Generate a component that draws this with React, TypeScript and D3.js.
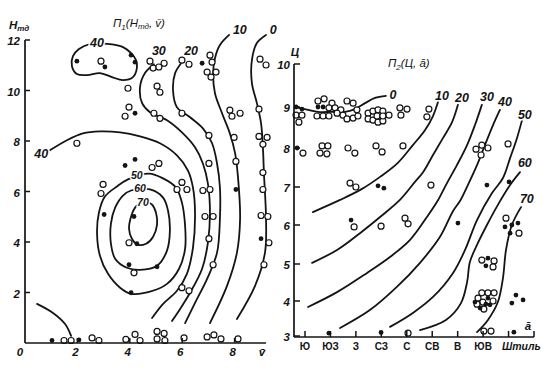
import React from "react";
import * as d3 from "d3";

type P = [number, number];

// ---------- Panel 1: П1(Hтд, v̄) ----------
const v1Ticks = [0, 2, 4, 6, 8];
const h1Ticks = [2, 4, 6, 8, 10, 12];

const p1Open: P[] = [
  [2.9, 11.16], [4.77, 11.16], [4.89, 10.89], [5.11, 10.93], [5.31, 11.08], [5.99, 11.2], [6.26, 11.04],
  [7.06, 11.4], [7.14, 11.12], [6.95, 10.73], [7.1, 10.53], [7.29, 10.73], [8.97, 11.24], [9.2, 11.01],
  [3.93, 10.09], [3.97, 9.34], [3.82, 8.98], [5.04, 10.17], [5.15, 9.93], [4.92, 9.1], [5.15, 8.9],
  [5.99, 9.1], [7.82, 9.22], [7.9, 8.98], [8.21, 9.1], [8.93, 9.26],
  [7.02, 8.22], [7.98, 8.14], [8.93, 8.18], [9.24, 8.14], [9.08, 7.87], [1.98, 7.91],
  [4.85, 6.95], [5.11, 7.11], [7.02, 7.11], [8.05, 7.19], [9.08, 6.75], [5.99, 6.36], [2.98, 6.28], [2.9, 5.92],
  [5.8, 6.08], [6.18, 6.08], [6.79, 6.04], [7.06, 6.08], [9.08, 6.08],
  [6.87, 5.01], [7.18, 5.01], [9.01, 5.05], [9.27, 5.01],
  [3.97, 3.97], [7.02, 4.13], [9.31, 3.97], [4.16, 2.78], [7.18, 3.1], [9.12, 3.1], [5.99, 2.19], [6.26, 2.07],
  [1.49, 0.1], [1.76, 0.1], [2.56, 0.2], [2.82, 0.1], [3.85, 0.14], [4.2, 0.34], [4.39, 0.1],
  [5.04, 0.46], [5.31, 0.38], [5.04, 0.16], [5.34, 0.1], [6.07, 0.2], [6.95, 0.24], [7.21, 0.32],
  [7.48, 0.16], [8.13, 0.16],
];

const p1Filled: P[] = [
  [1.98, 11.16], [3.05, 10.93], [4.05, 11.4], [4.2, 11.12], [6.76, 11.08], [4.2, 9.1], [3.82, 7.03],
  [4.2, 7.27], [8.05, 6.08], [3.02, 5.09], [4.16, 5.01], [9.01, 4.13], [4.27, 3.93], [3.97, 3.1],
  [5.04, 3.02], [4.05, 1.99], [1.03, 0.1], [2.06, 0.12],
];

// isolines of П1
const c1Loop40: P[] = [[2.48, 11.84], [3.24, 11.84], [3.74, 11.72], [4.05, 11.48], [4.24, 11.2], [4.27, 10.89], [4.12, 10.53], [3.74, 10.41], [3.32, 10.53], [2.86, 10.69], [2.37, 10.61], [1.98, 10.65], [1.79, 10.97], [1.83, 11.36], [2.06, 11.64]];
const c1Line40: P[] = [[0.95, 7.63], [1.6, 8.03], [2.21, 8.3], [2.86, 8.38], [3.63, 8.34], [4.39, 8.18], [5.15, 7.91], [5.8, 7.43], [6.22, 6.83], [6.41, 6.16], [6.49, 5.13], [6.41, 3.77], [6.18, 2.74], [5.8, 2.07], [5.27, 1.55], [4.85, 0.99]];
const c1Loop50: P[] = [[4.73, 6.71], [5.27, 6.52], [5.76, 6.16], [5.99, 5.56], [6.11, 4.65], [6.11, 3.73], [5.88, 2.94], [5.42, 2.34], [4.77, 2.03], [4.05, 1.95], [3.63, 2.19], [3.17, 2.74], [2.86, 3.46], [2.75, 4.33], [2.82, 5.16], [3.05, 5.8], [3.51, 6.2], [3.93, 6.48]];
const c1Loop60: P[] = [[4.77, 6.08], [5.27, 5.76], [5.46, 5.24], [5.53, 4.45], [5.42, 3.66], [5.04, 3.06], [4.39, 2.9], [3.89, 2.98], [3.44, 3.34], [3.28, 3.93], [3.28, 4.73], [3.44, 5.36], [3.74, 5.84], [4.05, 6.04]];
const c1Loop70: P[] = [[4.62, 5.6], [4.39, 5.52], [4.2, 5.36], [4.05, 5.01], [3.97, 4.53], [4.08, 4.13], [4.31, 3.89], [4.62, 3.93], [4.89, 4.21], [5.04, 4.69], [5.0, 5.16], [4.85, 5.48]];
const c1Line30: P[] = [[4.92, 11.04], [4.58, 10.69], [4.39, 10.13], [4.47, 9.5], [4.77, 9.14], [5.42, 8.82], [5.99, 8.34], [6.49, 7.75], [6.79, 7.11], [6.98, 6.32], [7.06, 5.16], [6.98, 3.97], [6.76, 2.94], [6.3, 1.99], [5.92, 1.35], [5.61, 0.87]];
const c1Line20: P[] = [[5.99, 11.12], [5.73, 10.69], [5.65, 10.01], [5.8, 9.34], [6.3, 8.94], [6.79, 8.5], [7.14, 7.91], [7.33, 7.11], [7.44, 6.16], [7.44, 4.93], [7.33, 3.58], [6.95, 2.54], [6.49, 1.59], [6.11, 0.79]];
const c1Line10: P[] = [[7.79, 12.2], [7.44, 11.8], [7.25, 11.28], [7.18, 10.69], [7.25, 9.89], [7.52, 9.1], [7.82, 8.3], [8.02, 7.51], [8.13, 6.56], [8.21, 4.93], [8.09, 3.58], [7.71, 2.26], [7.06, 0.79]];
const c1Line0: P[] = [[9.2, 12.2], [8.85, 11.88], [8.66, 11.2], [8.66, 10.29], [8.85, 9.5], [9.01, 8.7], [9.08, 7.75], [9.12, 6.71], [9.2, 4.93], [9.16, 3.58], [8.78, 2.26], [8.09, 0.95]];
const c1Corner: P[] = [[0.46, 1.55], [1.07, 1.19], [1.53, 0.75], [1.76, 0.28]];

const c1Labels: { text: string; at: P; small?: boolean }[] = [
  { text: "40", at: [2.75, 11.9] },
  { text: "40", at: [0.62, 7.5] },
  { text: "50", at: [4.27, 6.65], small: true },
  { text: "60", at: [4.39, 6.13], small: true },
  { text: "70", at: [4.5, 5.6], small: true },
  { text: "30", at: [5.11, 11.56] },
  { text: "20", at: [6.34, 11.56] },
  { text: "10", at: [8.2, 12.4] },
  { text: "0", at: [9.47, 12.4] },
];

// ---------- Panel 2: П2(Ц, ā) ----------
const dirLabels = ["Ю", "ЮЗ", "З", "СЗ", "С", "СВ", "В", "ЮВ"];
const calmLabel = "Штиль";
const c2Ticks = [3, 4, 5, 6, 7, 8, 9, 10];

const p2Open: P[] = [
  [-0.35, 8.8], [-0.12, 8.8], [-0.24, 8.63],
  [0.51, 9.14], [0.75, 9.19], [1.06, 9.09], [1.65, 9.14], [1.89, 9.09], [0.47, 8.78], [0.71, 8.78],
  [0.94, 8.78], [0.94, 8.98], [1.18, 8.98], [1.41, 8.93], [1.49, 8.8], [1.65, 8.71], [1.89, 8.73],
  [2.08, 8.78], [2.04, 8.93], [1.26, 8.85],
  [2.48, 8.85], [2.48, 8.71], [2.67, 8.9], [2.87, 8.93], [3.06, 8.9], [2.67, 8.68], [2.87, 8.63],
  [3.06, 8.66], [2.83, 8.78], [3.06, 8.78], [3.3, 8.8],
  [3.73, 8.98], [4.01, 8.95], [3.77, 8.8], [4.87, 8.95], [4.79, 8.76],
  [-0.08, 7.87], [0.67, 8.05], [0.9, 8.05], [0.59, 7.87], [0.86, 7.85], [1.69, 8.0], [1.96, 7.87],
  [2.79, 8.05], [3.03, 7.9], [3.85, 8.05],
  [6.72, 7.97], [6.95, 8.07], [7.19, 8.0], [6.92, 7.82], [7.98, 8.1],
  [1.77, 7.1], [2.0, 7.0], [4.95, 7.05],
  [1.93, 5.95], [2.99, 5.97], [3.93, 6.18], [4.05, 6.03], [7.9, 6.18], [8.41, 5.79],
  [6.95, 5.1], [7.43, 5.08], [7.39, 4.92],
  [6.95, 4.22], [7.19, 4.22], [7.43, 4.22], [6.8, 4.08], [6.99, 3.97], [7.39, 4.0], [6.76, 3.91], [7.03, 3.77],
  [4.05, 3.08], [7.03, 3.14], [7.31, 3.14],
];

const p2Filled: P[] = [
  [-0.35, 9.0], [-0.12, 8.95], [0.51, 9.0], [0.71, 9.0], [-0.31, 8.0], [2.87, 7.03], [3.1, 6.97],
  [7.15, 7.05], [8.02, 7.13], [1.81, 6.13], [6.01, 6.05], [7.86, 5.95], [8.13, 6.0], [8.37, 6.05],
  [8.06, 5.79], [7.19, 5.15], [7.11, 4.95], [7.19, 4.08], [6.68, 3.97], [7.27, 3.89], [6.88, 3.8],
  [7.11, 3.91], [8.29, 4.16], [8.13, 3.94], [8.57, 4.03], [0.94, 3.08], [2.99, 3.1], [8.21, 3.11],
];

// isolines of П2
const c2Line0: P[] = [[-0.39, 9.0], [0.12, 8.93], [0.51, 8.88], [1.06, 8.88], [1.57, 8.88], [1.96, 8.95], [2.36, 9.09], [2.75, 9.21], [3.18, 9.26]];
const c2Line10: P[] = [[5.23, 9.12], [5.03, 8.78], [4.72, 8.44], [4.24, 8.07], [3.65, 7.62], [2.95, 7.26], [2.24, 6.95], [1.38, 6.66], [0.31, 6.34]];
const c2Line20: P[] = [[6.01, 9.05], [5.78, 8.63], [5.42, 8.24], [5.03, 7.82], [4.64, 7.38], [4.32, 7.13], [3.73, 6.66], [2.95, 6.21], [2.16, 5.79], [1.26, 5.36], [0.28, 5.03]];
const c2Line30: P[] = [[6.95, 9.05], [6.68, 8.56], [6.37, 8.07], [5.97, 7.56], [5.58, 7.1], [5.19, 6.61], [4.79, 6.21], [4.13, 5.62], [3.34, 5.18], [2.44, 4.76], [1.26, 4.24], [0.12, 3.83]];
const c2Line40: P[] = [[7.66, 8.93], [7.39, 8.56], [7.07, 8.07], [6.76, 7.56], [6.4, 7.05], [6.09, 6.63], [5.82, 6.37], [5.3, 5.69], [4.52, 5.03], [3.61, 4.38], [2.55, 3.74], [1.38, 3.23]];
const c2Line50: P[] = [[8.53, 8.68], [8.33, 8.24], [8.06, 7.74], [7.78, 7.23], [7.35, 6.84], [6.76, 6.13], [6.29, 5.36], [5.82, 4.76], [5.03, 4.11], [4.24, 3.66], [3.34, 3.26]];
const c2Line60: P[] = [[8.45, 7.38], [8.06, 7.05], [7.58, 6.53], [7.15, 6.0], [6.76, 5.49], [6.48, 5.05], [6.37, 4.51], [6.13, 3.94], [5.54, 3.46], [4.52, 3.17]];
const c2Line70: P[] = [[8.49, 6.47], [8.13, 6.0], [7.9, 5.36], [7.78, 4.62], [7.58, 3.97], [7.19, 3.46], [6.76, 3.11]];

const c2Labels: { text: string; at: P; small?: boolean }[] = [
  { text: "0", at: [3.46, 9.28] },
  { text: "10", at: [5.38, 9.26] },
  { text: "20", at: [6.17, 9.21] },
  { text: "30", at: [7.15, 9.23] },
  { text: "40", at: [7.86, 9.12] },
  { text: "50", at: [8.64, 8.81] },
  { text: "60", at: [8.64, 7.62] },
  { text: "70", at: [8.72, 6.68] },
];

const INK = "#141414";
const FONT = "'Liberation Sans', 'DejaVu Sans', Arial, sans-serif";

export default function App() {
  // scales
  const x1 = d3.scaleLinear().domain([0, 8]).range([25, 234.6]);
  const y1 = d3.scaleLinear().domain([0, 12]).range([343, 40]);
  const x2 = d3.scaleLinear().domain([0, 9]).range([305, 534]);
  const y2 = d3.scaleLinear().domain(c2Ticks).range([336, 301, 264, 225, 187, 148, 107, 64]);

  const open1 = d3.line<P>().x((d) => x1(d[0])).y((d) => y1(d[1])).curve(d3.curveCatmullRom.alpha(0.5));
  const closed1 = d3.line<P>().x((d) => x1(d[0])).y((d) => y1(d[1])).curve(d3.curveCatmullRomClosed.alpha(0.5));
  const open2 = d3.line<P>().x((d) => x2(d[0])).y((d) => y2(d[1])).curve(d3.curveCatmullRom.alpha(0.5));

  const lineStyle = { fill: "none", stroke: INK, strokeWidth: 1.8, strokeLinecap: "round" as const };
  const labelStyle = {
    fontFamily: FONT,
    fontStyle: "italic" as const,
    fontWeight: 600,
    fill: INK,
    stroke: "white",
    strokeWidth: 3,
    paintOrder: "stroke" as const,
  };
  const tickText = { fontFamily: FONT, fontStyle: "italic" as const, fontSize: 11.5, fill: INK, fontWeight: 700 };

  const open1Paths = [c1Line40, c1Line30, c1Line20, c1Line10, c1Line0, c1Corner];
  const closed1Paths = [c1Loop40, c1Loop50, c1Loop60, c1Loop70];
  const open2Paths = [c2Line0, c2Line10, c2Line20, c2Line30, c2Line40, c2Line50, c2Line60, c2Line70];

  return (
    <svg width={549} height={370} style={{ position: "absolute", left: 0, top: 0, display: "block" }}>
      <rect width={549} height={370} fill="white" />

      {/* ---------- left panel ---------- */}
      <g>
        {open1Paths.map((d, i) => (
          <path key={"o1" + i} d={open1(d) || ""} {...lineStyle} />
        ))}
        {closed1Paths.map((d, i) => (
          <path key={"c1" + i} d={closed1(d) || ""} {...lineStyle} />
        ))}
        {c1Labels.map((l, i) => (
          <text key={"l1" + i} x={x1(l.at[0])} y={y1(l.at[1])} textAnchor="middle" dominantBaseline="central" fontSize={l.small ? 10.5 : 12.5} {...labelStyle}>
            {l.text}
          </text>
        ))}
        {p1Open.map((d, i) => (
          <circle key={"po1" + i} cx={x1(d[0])} cy={y1(d[1])} r={3} fill="white" stroke={INK} strokeWidth={1.2} />
        ))}
        {p1Filled.map((d, i) => (
          <circle key={"pf1" + i} cx={x1(d[0])} cy={y1(d[1])} r={2.4} fill={INK} />
        ))}

        {/* axes */}
        <line x1={x1(0)} y1={y1(12)} x2={x1(0)} y2={y1(0)} stroke={INK} strokeWidth={1.7} />
        <line x1={x1(0)} y1={y1(0)} x2={266} y2={y1(0)} stroke={INK} strokeWidth={1.7} />
        {h1Ticks.map((t) => (
          <g key={"ht" + t}>
            <line x1={x1(0)} x2={x1(0) + 5} y1={y1(t)} y2={y1(t)} stroke={INK} strokeWidth={1.5} />
            <text x={20} y={y1(t) + 1} textAnchor="end" dominantBaseline="central" {...tickText}>
              {t}
            </text>
          </g>
        ))}
        {v1Ticks.map((t) => (
          <g key={"vt" + t}>
            {t > 0 && <line x1={x1(t)} x2={x1(t)} y1={y1(0)} y2={y1(0) - 5} stroke={INK} strokeWidth={1.5} />}
            <text x={t === 0 ? x1(t) - 5 : x1(t) - 2} y={356} textAnchor="middle" {...tickText}>
              {t}
            </text>
          </g>
        ))}
        <text x={262} y={356} textAnchor="middle" {...tickText}>
          v̄
        </text>
        <text x={9} y={29} {...tickText}>
          H<tspan fontSize={8} dy={2}>тд</tspan>
        </text>
        <text x={113} y={27} {...tickText} fontWeight={500}>
          П<tspan fontSize={8} dy={3}>1</tspan>
          <tspan dy={-3}>(H</tspan>
          <tspan fontSize={8} dy={2}>тд</tspan>
          <tspan dy={-2}>, v̄)</tspan>
        </text>
      </g>

      {/* ---------- right panel ---------- */}
      <g>
        {open2Paths.map((d, i) => (
          <path key={"o2" + i} d={open2(d) || ""} {...lineStyle} />
        ))}
        {c2Labels.map((l, i) => (
          <text key={"l2" + i} x={x2(l.at[0])} y={y2(l.at[1])} textAnchor="middle" dominantBaseline="central" fontSize={12.5} {...labelStyle}>
            {l.text}
          </text>
        ))}
        {p2Open.map((d, i) => (
          <circle key={"po2" + i} cx={x2(d[0])} cy={y2(d[1])} r={3} fill="white" stroke={INK} strokeWidth={1.2} />
        ))}
        {p2Filled.map((d, i) => (
          <circle key={"pf2" + i} cx={x2(d[0])} cy={y2(d[1])} r={2.4} fill={INK} />
        ))}

        {/* axes */}
        <line x1={294} y1={y2(10)} x2={294} y2={337} stroke={INK} strokeWidth={1.7} />
        <line x1={294} y1={337} x2={x2(9)} y2={337} stroke={INK} strokeWidth={1.7} />
        {c2Ticks.map((t) => (
          <g key={"ct" + t}>
            <line x1={294} x2={300} y1={y2(t)} y2={y2(t)} stroke={INK} strokeWidth={1.5} />
            <text x={290} y={y2(t) + 1} textAnchor="end" dominantBaseline="central" {...tickText}>
              {t}
            </text>
          </g>
        ))}
        {d3.range(10).map((i) => (
          <line key={"at" + i} x1={x2(i)} x2={x2(i)} y1={337} y2={331} stroke={INK} strokeWidth={1.5} />
        ))}
        {dirLabels.map((lab, i) => (
          <text key={"dl" + i} x={x2(i)} y={350} textAnchor="middle" fontFamily={FONT} fontSize={10} fontWeight={600} fill={INK}>
            {lab}
          </text>
        ))}
        <text x={x2(8.5)} y={350} textAnchor="middle" {...tickText} fontSize={10.5}>
          {calmLabel}
        </text>
        <text x={528} y={330} textAnchor="middle" {...tickText}>
          ā
        </text>
        <text x={295} y={56} textAnchor="middle" {...tickText}>
          Ц
        </text>
        <text x={388} y={67} {...tickText} fontWeight={500}>
          П<tspan fontSize={8} dy={3}>2</tspan>
          <tspan dy={-3}>(Ц, ā)</tspan>
        </text>
      </g>
    </svg>
  );
}
